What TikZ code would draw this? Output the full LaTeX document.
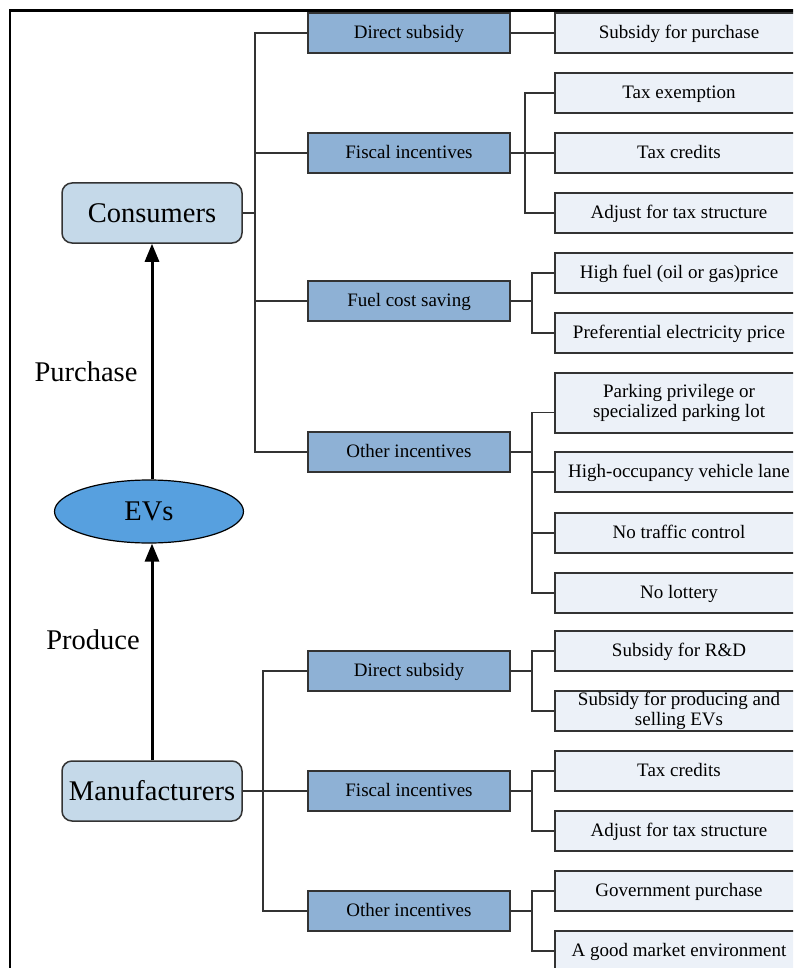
\documentclass[tikz,border=0pt]{standalone}
\usepackage{fontspec}
\setmainfont{Liberation Serif}
\usetikzlibrary{arrows.meta,shapes.geometric}

\definecolor{consfill}{HTML}{C5D9E9}
\definecolor{midfill}{HTML}{8EB1D5}
\definecolor{leaffill}{HTML}{ECF1F8}
\definecolor{evfill}{HTML}{57A0DF}
\definecolor{edge}{HTML}{333333}

\tikzset{
  bigtext/.style={font=\fontsize{28.5}{30}\selectfont},
  actor/.style={draw=edge, line width=1.5pt, fill=consfill, rounded corners=10pt,
    minimum width=180pt, minimum height=60pt, inner sep=0pt, bigtext},
  product/.style={draw=black, line width=1.2pt, fill=evfill, ellipse,
    minimum width=189pt, minimum height=63pt, inner sep=0pt, bigtext},
  oneline/.style={text height=14pt, text depth=3pt},
  midbox/.style={draw=edge, line width=1.5pt, fill=midfill,
    minimum width=202pt, minimum height=40pt, inner sep=0pt, oneline,
    font=\fontsize{19}{20}\selectfont},
  twoline/.style={draw=edge, line width=1.5pt, fill=leaffill,
    minimum width=248pt, minimum height=40pt, inner sep=0pt, align=center,
    font=\fontsize{19}{20}\selectfont},
  leafbox/.style={twoline, oneline},
  wire/.style={draw=edge, line width=1.2pt},
  flow/.style={line width=3pt, -{Triangle[length=18pt,width=14pt]}},
}

\begin{document}
\begin{tikzpicture}[x=1pt,y=-1pt]
\clip (0,0) rectangle (793,968);
\fill[white] (0,0) rectangle (793,968);

% outer frame (top and left edges)
\draw[line width=2.5pt] (10,975) -- (10,10.5) -- (800,10.5);

% main actors and the product
\node[actor]   (cons)   at (152,213) {Consumers};
\node[product] (evs)    at (149,511.5) {EVs};
\node[actor]   (manuf)  at (152,791) {Manufacturers};

\draw[flow] (evs.north -| cons.south) -- (cons.south);
\draw[flow] (manuf.north) -- (manuf.north |- evs.south);

\node[bigtext] (lpurch) at (86,372) {Purchase};
\node[bigtext] (lprod)  at (93,640) {Produce};

% consumer-side measures
\node[midbox] (c1) at (409,33)  {Direct subsidy};
\node[midbox] (c2) at (409,153) {Fiscal incentives};
\node[midbox] (c3) at (409,301) {Fuel cost saving};
\node[midbox] (c4) at (409,452) {Other incentives};

\node[leafbox] (r1)  at (679,33)  {Subsidy for purchase};
\node[leafbox] (r2)  at (679,93)  {Tax exemption};
\node[leafbox] (r3)  at (679,153) {Tax credits};
\node[leafbox] (r4)  at (679,213) {Adjust for tax structure};
\node[leafbox] (r5)  at (679,273) {High fuel (oil or gas)price};
\node[leafbox] (r6)  at (679,333) {Preferential electricity price};
\node[twoline, minimum height=60pt] (r7) at (679,403) {Parking privilege or\\specialized parking lot};
\node[leafbox] (r8)  at (679,472) {High-occupancy vehicle lane};
\node[leafbox] (r9)  at (679,533) {No traffic control};
\node[leafbox] (r10) at (679,593) {No lottery};

% manufacturer-side measures
\node[midbox] (m1) at (409,671) {Direct subsidy};
\node[midbox] (m2) at (409,791) {Fiscal incentives};
\node[midbox] (m3) at (409,911) {Other incentives};

\node[leafbox] (s1) at (679,651) {Subsidy for R\&D};
\node[twoline] (s2) at (679,711) {Subsidy for producing and\\selling EVs};
\node[leafbox] (s3) at (679,771) {Tax credits};
\node[leafbox] (s4) at (679,831) {Adjust for tax structure};
\node[leafbox] (s5) at (679,891) {Government purchase};
\node[leafbox] (s6) at (679,951) {A good market environment};

% consumer tree
\coordinate (ct) at (255,213);
\draw[wire] (cons.east) -- (ct);
\draw[wire] (c1.west) -| (ct);
\draw[wire] (c4.west) -| (ct);
\draw[wire] (c2.west) -- (c2.west -| ct);
\draw[wire] (c3.west) -- (c3.west -| ct);

\draw[wire] (c1.east) -- (r1.west);

\coordinate (ft) at (525,153);
\draw[wire] (c2.east) -- (ft);
\draw[wire] (ft) |- (r2.west);
\draw[wire] (ft) |- (r4.west);
\draw[wire] (ft) -- (r3.west);

\coordinate (fu) at (532,301);
\draw[wire] (c3.east) -- (fu);
\draw[wire] (fu) |- (r5.west);
\draw[wire] (fu) |- (r6.west);

\coordinate (ot) at (532,452);
\draw[wire] (c4.east) -- (ot);
\draw[wire] (ot) |- ([yshift=-9.5pt]r7.west);
\draw[wire] (ot) |- (r8.west);
\draw[wire] (ot) |- (r9.west);
\draw[wire] (ot) |- (r10.west);

% manufacturer tree
\coordinate (mt) at (263,791);
\draw[wire] (manuf.east) -- (m2.west);
\draw[wire] (mt) |- (m1.west);
\draw[wire] (mt) |- (m3.west);

\coordinate (dt) at (532,671);
\draw[wire] (m1.east) -- (dt);
\draw[wire] (dt) |- (s1.west);
\draw[wire] (dt) |- (s2.west);

\coordinate (gt) at (532,791);
\draw[wire] (m2.east) -- (gt);
\draw[wire] (gt) |- (s3.west);
\draw[wire] (gt) |- (s4.west);

\coordinate (ht) at (532,911);
\draw[wire] (m3.east) -- (ht);
\draw[wire] (ht) |- (s5.west);
\draw[wire] (ht) |- (s6.west);
\end{tikzpicture}
\end{document}
